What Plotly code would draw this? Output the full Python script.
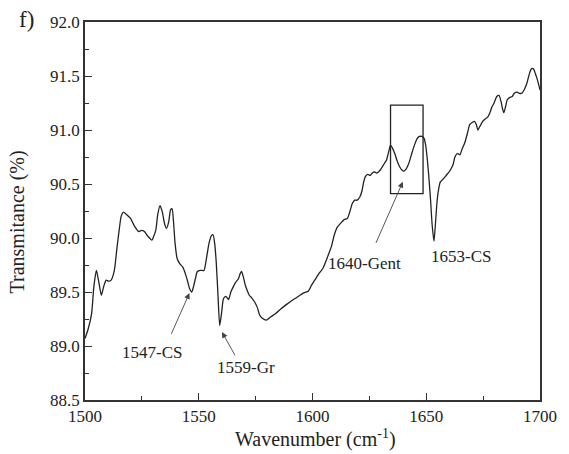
import plotly.graph_objects as go

# FTIR transmittance spectrum, 1500-1700 cm-1
wavenumber = [
    1500.0, 1501.3, 1502.9, 1503.9, 1505.0, 1506.0, 1507.2, 1508.2, 1509.3, 1510.3,
    1511.5, 1512.9, 1514.0, 1515.0, 1515.9, 1516.9, 1518.1, 1520.1, 1521.5, 1523.6,
    1524.9, 1526.1, 1527.5, 1529.4, 1530.3, 1531.1, 1532.0, 1533.0, 1534.0, 1535.0,
    1535.8, 1536.8, 1537.6, 1538.3, 1538.9, 1539.6, 1540.5, 1541.7, 1543.0, 1544.1,
    1545.1, 1546.0, 1546.9, 1547.7, 1548.6, 1549.4, 1550.7, 1552.3, 1553.3, 1554.5,
    1555.5, 1556.3, 1557.0, 1557.7, 1558.5, 1559.2, 1560.0, 1560.9, 1561.9, 1563.1,
    1564.1, 1565.2, 1566.2, 1567.4, 1568.2, 1568.8, 1569.6, 1570.5, 1571.4, 1572.2,
    1573.1, 1574.5, 1575.7, 1576.7, 1577.8, 1579.8, 1581.7, 1583.8, 1586.4, 1589.6,
    1591.6, 1593.9, 1595.9, 1598.2, 1599.5, 1601.0, 1602.8, 1604.6, 1605.8, 1606.7,
    1608.3, 1609.6, 1610.9, 1612.5, 1613.9, 1615.3, 1616.5, 1617.5, 1618.6, 1619.6,
    1620.8, 1621.8, 1622.5, 1623.3, 1624.2, 1625.4, 1626.2, 1626.8, 1627.5, 1628.2,
    1629.4, 1630.4, 1631.6, 1632.5, 1633.5, 1634.3, 1635.2, 1636.2, 1637.1, 1638.3,
    1639.3, 1640.2, 1641.2, 1642.3, 1643.6, 1644.8, 1646.0, 1647.0, 1648.1, 1649.1,
    1649.8, 1650.5, 1651.2, 1651.9, 1652.6, 1653.4, 1654.1, 1654.8, 1655.5, 1656.2,
    1657.2, 1658.4, 1659.6, 1660.6, 1661.8, 1662.6, 1663.5, 1664.1, 1664.8, 1665.7,
    1666.9, 1668.1, 1669.1, 1670.2, 1671.2, 1672.0, 1672.7, 1673.5, 1674.8, 1675.8,
    1677.0, 1678.0, 1678.8, 1679.8, 1681.0, 1682.0, 1682.9, 1683.6, 1684.1, 1684.9,
    1685.6, 1686.6, 1687.8, 1688.7, 1689.9, 1690.9, 1692.0, 1693.0, 1694.2, 1695.2,
    1696.0, 1696.6, 1697.3, 1698.0, 1698.5, 1699.3, 1700.0,
]
transmittance = [
    89.07, 89.15, 89.30, 89.55, 89.70, 89.60, 89.47, 89.55, 89.61, 89.60,
    89.61, 89.70, 89.90, 90.07, 90.20, 90.24, 90.22, 90.18, 90.12, 90.06,
    90.07, 90.06, 90.02, 89.98, 90.02, 90.07, 90.22, 90.30, 90.24, 90.13,
    90.09, 90.15, 90.26, 90.27, 90.15, 89.95, 89.81, 89.76, 89.73, 89.67,
    89.60, 89.53, 89.50, 89.55, 89.63, 89.69, 89.70, 89.70, 89.80, 89.95,
    90.02, 90.03, 89.95, 89.77, 89.45, 89.19, 89.30, 89.44, 89.46, 89.43,
    89.50, 89.55, 89.59, 89.62, 89.67, 89.69, 89.64, 89.56, 89.51, 89.47,
    89.45, 89.41, 89.36, 89.29, 89.26, 89.24, 89.27, 89.30, 89.35, 89.40,
    89.43, 89.46, 89.49, 89.51, 89.56, 89.61, 89.67, 89.72, 89.78, 89.83,
    89.92, 90.03, 90.10, 90.14, 90.17, 90.18, 90.25, 90.32, 90.35, 90.35,
    90.38, 90.44, 90.52, 90.57, 90.59, 90.58, 90.60, 90.61, 90.61, 90.60,
    90.62, 90.65, 90.69, 90.72, 90.80, 90.86, 90.83, 90.78, 90.72, 90.66,
    90.63, 90.62, 90.64, 90.69, 90.78, 90.86, 90.92, 90.94, 90.94, 90.92,
    90.85, 90.72, 90.55, 90.35, 90.12, 89.97, 90.15, 90.35, 90.46, 90.52,
    90.54, 90.57, 90.60, 90.63, 90.68, 90.75, 90.78, 90.78, 90.77, 90.82,
    90.88, 90.97, 91.05, 91.07, 91.08, 91.05, 91.00, 91.03, 91.08, 91.10,
    91.12, 91.16, 91.21, 91.25, 91.31, 91.32, 91.26, 91.19, 91.16, 91.22,
    91.28, 91.30, 91.31, 91.34, 91.35, 91.34, 91.34, 91.37, 91.43, 91.51,
    91.56, 91.57, 91.56, 91.52, 91.49, 91.43, 91.37,
]

# Band labels: text, arrow head (x, y), arrow tail (x, y), text centre (x, y)
band_labels = ["1547-CS", "1559-Gr", "1640-Gent", "1653-CS"]
arrow_heads = [(1545.9, 89.49), (1560.2, 89.13), (1639.7, 90.52), None]
arrow_tails = [(1537.7, 89.10), (1566.3, 88.90), (1627.6, 89.94), None]
label_pos = [(1529.5, 88.94), (1570.8, 88.80), (1623.0, 89.76), (1665.3, 89.83)]

# Highlight box around the gentamicin band
box_x = (1634.3, 1648.6)
box_y = (90.41, 91.23)

FONT = "Liberation Serif, Times New Roman, serif"
INK = "#222222"

fig = go.Figure()
fig.add_trace(go.Scatter(
    x=wavenumber, y=transmittance, mode="lines",
    line=dict(color=INK, width=1.3, shape="spline", smoothing=0.6),
    hoverinfo="skip", showlegend=False,
))

annotations = []
for text, head, tail, pos in zip(band_labels, arrow_heads, arrow_tails, label_pos):
    if head is not None:
        annotations.append(dict(
            x=head[0], y=head[1], ax=tail[0], ay=tail[1],
            xref="x", yref="y", axref="x", ayref="y",
            text="", showarrow=True, arrowhead=2, arrowsize=1.3,
            arrowwidth=0.9, arrowcolor="#444444",
        ))
    annotations.append(dict(
        x=pos[0], y=pos[1], xref="x", yref="y", text=text, showarrow=False,
        font=dict(family=FONT, size=17, color=INK),
        xanchor="center", yanchor="middle",
    ))

# Panel letter and axis titles
annotations.append(dict(
    x=25, y=20, xref="paper", yref="paper", text="f)", showarrow=False,
    font=dict(family=FONT, size=23, color=INK),
))
annotations[-1].update(xref="x domain", yref="y domain",
                       x=(25 - 85) / 465, y=(400 - 20) / 378,
                       xanchor="center", yanchor="middle")
annotations.append(dict(
    xref="x domain", yref="y domain", x=(321 - 85) / 465, y=(400 - 438) / 378,
    text="Wavenumber (cm<sup>-1</sup>)", showarrow=False,
    font=dict(family=FONT, size=20, color=INK),
    xanchor="center", yanchor="middle",
))
annotations.append(dict(
    xref="x domain", yref="y domain", x=(16 - 85) / 465, y=(400 - 222) / 378,
    text="Transmitance (%)", showarrow=False, textangle=-90,
    font=dict(family=FONT, size=20, color=INK),
    xanchor="center", yanchor="middle",
))

fig.add_shape(type="rect", xref="x", yref="y",
              x0=box_x[0], x1=box_x[1], y0=box_y[0], y1=box_y[1],
              line=dict(color=INK, width=1.3))

fig.update_layout(
    width=569, height=454,
    margin=dict(l=85, r=19, t=22, b=54),
    paper_bgcolor="white", plot_bgcolor="white",
    font=dict(family=FONT, color=INK),
    annotations=annotations,
)
fig.update_xaxes(
    range=[1500, 1700], dtick=50, tick0=1500,
    showline=True, linecolor="#333333", linewidth=1.5, mirror=True,
    ticks="inside", ticklen=7, tickwidth=1.2, tickcolor="#333333",
    minor=dict(ticks="inside", ticklen=4, dtick=25, tickcolor="#333333"),
    showgrid=False, zeroline=False,
    tickfont=dict(family=FONT, size=17, color=INK),
)
fig.update_yaxes(
    range=[88.5, 92.0], dtick=0.5, tick0=88.5, tickformat=".1f",
    showline=True, linecolor="#333333", linewidth=1.5, mirror=True,
    ticks="inside", ticklen=7, tickwidth=1.2, tickcolor="#333333",
    minor=dict(ticks="inside", ticklen=4, dtick=0.25, tickcolor="#333333"),
    showgrid=False, zeroline=False,
    tickfont=dict(family=FONT, size=17, color=INK),
)

fig.write_html("out.html")
